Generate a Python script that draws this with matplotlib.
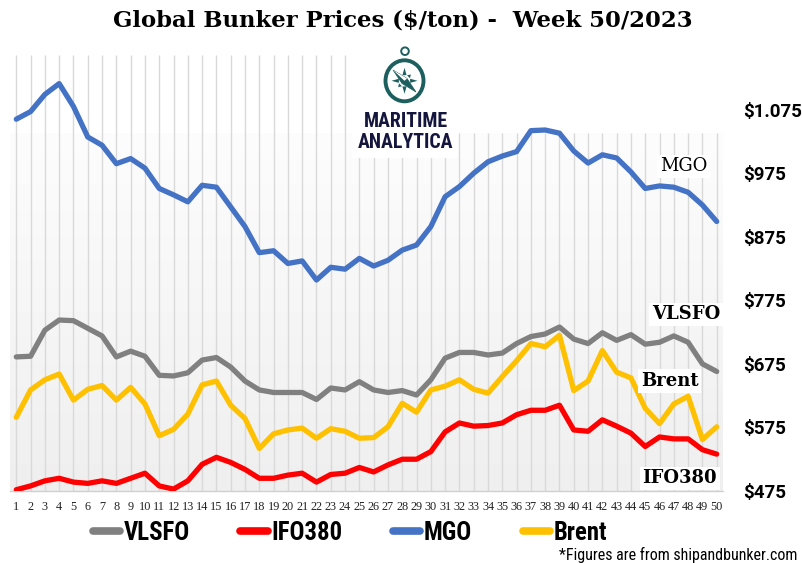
import os
import matplotlib
matplotlib.use("Agg")
import matplotlib.pyplot as plt
import numpy as np
from matplotlib.lines import Line2D
from matplotlib.patches import Circle, Ellipse, Rectangle, Polygon
from matplotlib.colors import LinearSegmentedColormap
from matplotlib import font_manager as fm
from matplotlib.font_manager import FontProperties

# ---------------- data ----------------
weeks = list(range(1, 51))
vlsfo = [686, 687, 728, 744, 743, 731, 719, 686, 695, 687,
         657, 656, 661, 681, 685, 670, 648, 634, 630, 630,
         630, 619, 637, 634, 647, 634, 630, 633, 626, 650,
         684, 693, 693, 689, 692, 707, 718, 722, 733, 714,
         707, 724, 712, 721, 706, 709, 719, 709, 675, 663]
ifo380 = [477, 483, 491, 495, 489, 487, 491, 487, 495, 503,
          483, 478, 491, 517, 528, 520, 509, 495, 495, 500,
          503, 489, 501, 503, 512, 505, 516, 525, 525, 537,
          568, 582, 577, 578, 582, 595, 602, 602, 610, 571,
          569, 587, 577, 566, 545, 560, 557, 557, 540, 533]
mgo = [1060, 1072, 1099, 1116, 1080, 1032, 1019, 990, 998, 983,
       951, 941, 930, 956, 953, 922, 891, 850, 853, 833,
       837, 807, 827, 824, 841, 829, 838, 854, 862, 891,
       938, 954, 975, 993, 1002, 1009, 1042, 1043, 1038, 1010,
       991, 1004, 999, 977, 951, 955, 953, 945, 925, 899]
brent = [591, 634, 650, 659, 618, 635, 641, 618, 638, 612,
         562, 572, 596, 642, 648, 610, 589, 542, 565, 571,
         574, 558, 573, 569, 558, 559, 576, 613, 599, 634,
         640, 650, 635, 629, 655, 680, 707, 702, 720, 633,
         648, 696, 662, 653, 605, 581, 612, 624, 556, 576]

series_names = ["VLSFO", "IFO380", "MGO", "Brent"]
series_values = [vlsfo, ifo380, mgo, brent]
series_colors = ["#808080", "#ff0000", "#4472c4", "#ffc000"]

ytick_values = [475, 575, 675, 775, 875, 975, 1075]
ytick_labels = ["$475", "$575", "$675", "$775", "$875", "$975", "$1.075"]

title = "Global Bunker Prices ($/ton) -  Week 50/2023"
footnote = "*Figures are from shipandbunker.com"


# ---------------- condensed font lookup ----------------
def find_condensed(bold):
    best = None
    best_score = -1
    for f in fm.fontManager.ttflist:
        fn = os.path.basename(f.fname).lower()
        nm = f.name.lower()
        cond = (str(f.stretch) in ("condensed", "semi-condensed", "extra-condensed", "ultra-condensed")
                or "condensed" in fn or "narrow" in fn or "condensed" in nm or "narrow" in nm)
        if not cond:
            continue
        if f.style != "normal" or "italic" in fn or "oblique" in fn:
            continue
        w = f.weight if isinstance(f.weight, int) else (700 if "bold" in str(f.weight) else 400)
        isbold = w >= 600 or "bold" in fn
        if isbold != bold:
            continue
        score = 1
        if "roboto" in nm:
            score = 5
        elif "liberation" in nm:
            score = 4
        elif "dejavu" in nm and "sans" in nm and "mono" not in nm:
            score = 3
        elif "open" in nm:
            score = 2
        if "semi" in fn or "light" in fn or "extra" in fn or "black" in fn or "medium" in fn or "thin" in fn:
            score -= 0.5
        if score > best_score:
            best, best_score = f.fname, score
    return best


cond_bold = find_condensed(True)
cond_reg = find_condensed(False)


def cprop(size, bold=True):
    path = cond_bold if bold else cond_reg
    if path:
        return FontProperties(fname=path, size=size)
    return FontProperties(family="DejaVu Sans", weight="bold" if bold else "normal",
                          stretch="condensed", size=size)


# ---------------- figure ----------------
W, H = 803, 563
fig = plt.figure(figsize=(W / 100, H / 100), dpi=100)
fig.patch.set_facecolor("white")

left_px, right_px, top_px, bot_px = 10, 723, 55, 491
ax = fig.add_axes([left_px / W, 1 - bot_px / H, (right_px - left_px) / W, (bot_px - top_px) / H])
ax.set_facecolor("white")
ax.set_xlim(0.56, 50.44)
ax.set_ylim(475, 1161)

grad_top = 1038
grad = np.linspace(0, 1, 256).reshape(-1, 1)
cmap = LinearSegmentedColormap.from_list("bg", ["#efefef", "#fdfdfd"])
ax.imshow(grad, cmap=cmap, aspect="auto", extent=(0.56, 50.44, 475, grad_top),
          origin="lower", zorder=0, interpolation="bicubic")

for w in weeks:
    xpix = left_px + (w - 0.56) / (50.44 - 0.56) * (right_px - left_px)
    top = 1161 if xpix < 350 else grad_top
    ax.vlines(w, 475, top, color="#d9d9d9", lw=1.0, zorder=1)

for name, vals, col in zip(series_names, series_values, series_colors):
    ax.plot(weeks, vals, color=col, lw=3.8, solid_joinstyle="round",
            solid_capstyle="round", zorder=3)

for s in ["top", "left", "right"]:
    ax.spines[s].set_visible(False)
ax.spines["bottom"].set_color("#d0d0d0")
ax.spines["bottom"].set_linewidth(1.0)

ax.set_xticks(weeks)
ax.set_xticklabels([str(w) for w in weeks], fontfamily="Liberation Serif",
                   fontsize=8.8, color="#222222")
ax.tick_params(axis="x", length=0, pad=7.5)

ax.yaxis.tick_right()
ax.set_yticks(ytick_values)
ax.set_yticklabels(ytick_labels, fontfamily="Roboto", fontweight="bold", fontsize=13.5)
ax.tick_params(axis="y", length=0, pad=14.5)

lab_box = dict(boxstyle="square,pad=0.15", fc="white", ec="none")
ax.text(47.7, 986, "MGO", ha="center", va="center", fontfamily="DejaVu Serif",
        fontsize=13, bbox=lab_box, zorder=5)
ax.text(47.85, 753, "VLSFO", ha="center", va="center", fontfamily="DejaVu Serif",
        fontweight="bold", fontsize=13, bbox=lab_box, zorder=5)
ax.text(46.7, 648, "Brent", ha="center", va="center", fontfamily="DejaVu Serif",
        fontweight="bold", fontsize=13, bbox=lab_box, zorder=5)
ax.text(47.4, 495, "IFO380", ha="center", va="center", fontfamily="DejaVu Serif",
        fontweight="bold", fontsize=13, bbox=lab_box, zorder=5)

fig.text(403 / W, 1 - 20 / H, title, ha="center", va="center",
         fontfamily="DejaVu Serif", fontweight="bold", fontsize=16.4)

handles = [Line2D([0], [0], color=c, lw=5.5, solid_capstyle="round") for c in series_colors]
leg = fig.legend(handles, series_names, loc="center", bbox_to_anchor=(350 / W, 1 - 533 / H),
                 ncol=4, frameon=False, handlelength=1.1, handletextpad=0.15,
                 columnspacing=2.05, prop=cprop(17.8, True))

fig.text(797 / W, 1 - 555 / H, footnote, ha="right", va="center",
         fontproperties=cprop(11.5, False))

# ---------------- logo overlay (pixel coordinates) ----------------
ov = fig.add_axes([0, 0, 1, 1], zorder=10)
ov.set_xlim(0, W)
ov.set_ylim(H, 0)
ov.axis("off")
ov.patch.set_alpha(0)
ov.add_patch(Rectangle((352, 44), 106, 114, fc="white", ec="none"))
teal = "#1d5e5e"
navy = "#15163d"
cx, cy = 404.5, 80.8
ov.add_patch(Ellipse((cx, cy), 2 * 19.0, 2 * 20.5, fc="none", ec=teal, lw=2.8))
ov.add_patch(Circle((405, 51.2), 3.8, fc="none", ec=teal, lw=1.4))
ov.add_patch(Polygon([(393, 70), (407, 78.5), (416, 92), (402, 83.5)], closed=True,
                     fc=teal, ec=teal, lw=0.5))
ov.add_patch(Polygon([(393, 70), (407, 78.5), (cx, cy)], closed=True, fc="white", ec="none"))
for ang in [0, 90, 180, 270, 45, 225]:
    a = np.deg2rad(ang)
    L = 13 if ang % 90 == 0 else 9
    tip = (cx + L * np.cos(a), cy - L * np.sin(a))
    p1 = (cx + 6 * np.cos(a + 0.35), cy - 6 * np.sin(a + 0.35))
    p2 = (cx + 6 * np.cos(a - 0.35), cy - 6 * np.sin(a - 0.35))
    ov.add_patch(Polygon([tip, p1, p2], closed=True, fc=teal, ec="none"))
ov.text(405.5, 121.5, "MARITIME", ha="center", va="center", color=navy,
        fontproperties=cprop(14.3, True))
ov.text(405.5, 142, "ANALYTICA", ha="center", va="center", color=navy,
        fontproperties=cprop(14.3, True))

fig.savefig("out.png", dpi=100)
